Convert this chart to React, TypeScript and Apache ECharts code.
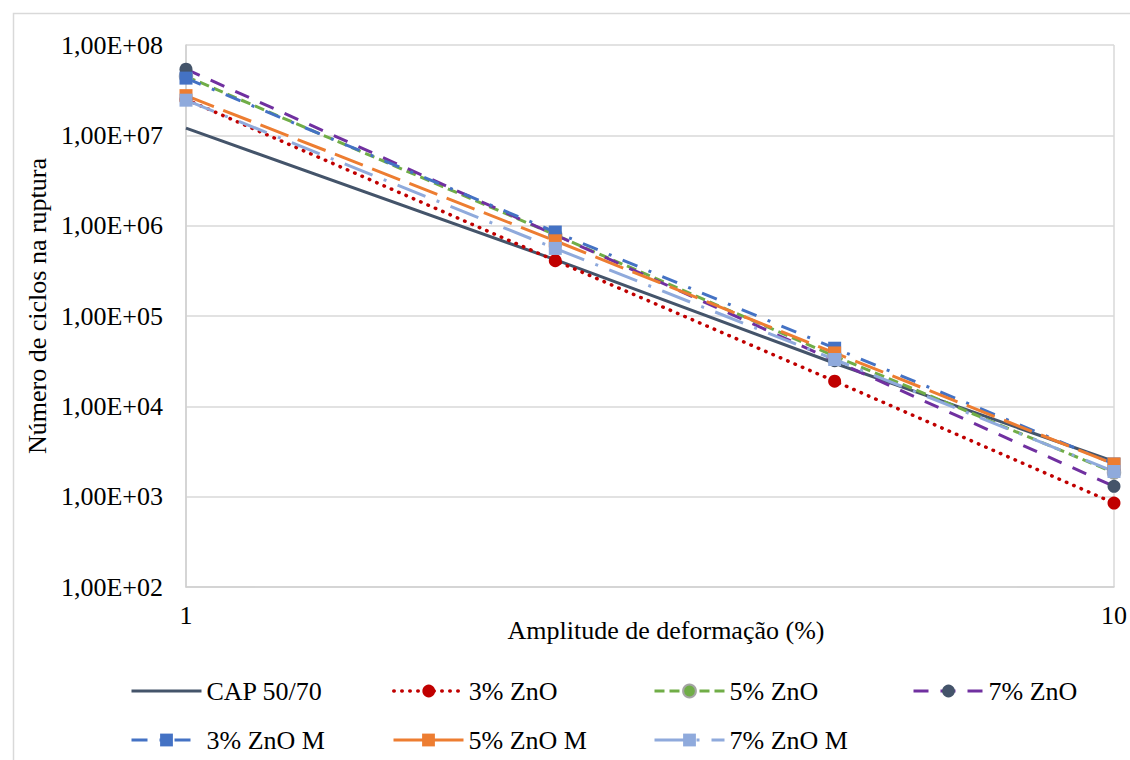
import React, { useEffect, useRef } from "react";
import * as echarts from "echarts";

const xValues = [1, 2.5, 5, 10];
const seriesNames = ["CAP 50/70", "3% ZnO", "5% ZnO", "7% ZnO", "3% ZnO M", "5% ZnO M", "7% ZnO M"];
const cap5070 = [1.2e7, 4.2e5, 3.0e4, 2.45e3];
const zno3 = [2.5e7, 4.1e5, 1.9e4, 850];
const zno5 = [4.5e7, 7.9e5, 3.6e4, 1.85e3];
const zno7 = [5.4e7, 7.9e5, 3.2e4, 1.3e3];
const zno3M = [4.3e7, 8.5e5, 4.4e4, 2.3e3];
const zno5M = [2.75e7, 6.8e5, 3.9e4, 2.3e3];
const zno7M = [2.45e7, 5.6e5, 3.3e4, 1.9e3];
const xTickLabels = ["1", "10"];

const FONT = "Liberation Serif";

function buildOption(): any {
  const pairs = (ys: number[]) => ys.map((y, i) => [xValues[i], y]);
  const styles: any[] = [
    { color: "#44546A", type: "solid", symbol: "none", size: 0 },
    { color: "#C00000", type: [0.5, 7.5], cap: "round", width: 3.5, symbol: "circle", size: 13, fill: "#C00000" },
    { color: "#70AD47", type: [10, 5], symbol: "circle", size: 13, fill: "#70AD47", border: "#A5A5A5" },
    { color: "#7030A0", type: [15, 12], symbol: "circle", size: 13, fill: "#44546A" },
    { color: "#4472C4", type: [16, 12, 3, 12], symbol: "rect", size: 13, fill: "#4472C4" },
    { color: "#ED7D31", type: [30, 10], symbol: "rect", size: 13, fill: "#ED7D31" },
    { color: "#8FAADC", type: [30, 12, 3, 12], symbol: "rect", size: 13, fill: "#8FAADC" },
  ];
  const dataSets = [cap5070, zno3, zno5, zno7, zno3M, zno5M, zno7M];
  const series = seriesNames.map((name, i) => {
    const s = styles[i];
    return {
      name,
      type: "line",
      data: pairs(dataSets[i]),
      symbol: s.symbol,
      symbolSize: s.size,
      showSymbol: s.symbol !== "none",
      lineStyle: { color: s.color, width: s.width || 3, type: s.type, cap: s.cap || "butt" },
      itemStyle: {
        color: s.fill || s.color,
        borderColor: s.border || s.fill || s.color,
        borderWidth: s.border ? 1.5 : 0,
      },
      emphasis: { disabled: true },
    };
  });
  const legendPos = [
    [130, 0], [392, 0], [653, 0], [912, 0],
    [130, 1], [392, 1], [653, 1],
  ];
  const legends = seriesNames.map((name, i) => ({
    show: true,
    left: legendPos[i][0],
    top: legendPos[i][1] === 0 ? 678 : 727,
    padding: 0,
    itemWidth: 70,
    itemHeight: 16,
    selectedMode: false,
    data: [
      {
        name,
        itemStyle: i === 0 ? { opacity: 0 } : undefined,
        lineStyle: { width: styles[i].width || 3 },
      },
    ],
    textStyle: { fontFamily: FONT, fontSize: 26, color: "#000" },
  }));
  return {
    animation: false,
    backgroundColor: "#fff",
    grid: { left: 186, right: 15, top: 45, bottom: 173 },
    legend: legends,
    xAxis: {
      type: "log",
      logBase: 10,
      min: 1,
      max: 10,
      axisLine: { show: true, lineStyle: { color: "#D0D0D0", width: 1.5 } },
      axisTick: { show: false },
      splitLine: { show: true, lineStyle: { color: "#D9D9D9", width: 1.5 } },
      axisLabel: {
        fontFamily: FONT,
        fontSize: 26,
        color: "#000",
        margin: 15,
        formatter: (v: number) => {
          const idx = Math.round(Math.log10(v));
          return xTickLabels[idx] ?? "";
        },
      },
    },
    yAxis: {
      type: "log",
      logBase: 10,
      min: 100,
      max: 1e8,
      axisLine: { show: true, lineStyle: { color: "#D0D0D0", width: 1.5 } },
      axisTick: { show: false },
      splitLine: { show: true, lineStyle: { color: "#D9D9D9", width: 1.5 } },
      axisLabel: {
        fontFamily: FONT,
        fontSize: 26,
        color: "#000",
        margin: 23,
        formatter: (v: number) => {
          const e = Math.round(Math.log10(v));
          return "1,00E+" + String(e).padStart(2, "0");
        },
      },
    },
    graphic: [
      {
        type: "rect",
        left: 11,
        top: 11,
        shape: { x: 0, y: 0, width: 1140, height: 770 },
        style: { fill: "none", stroke: "#D9D9D9", lineWidth: 1.5 },
        silent: true,
        z: -10,
      },
      {
        type: "text",
        x: 666,
        y: 630,
        style: {
          text: "Amplitude de deformação (%)",
          fontFamily: FONT,
          fontSize: 26,
          fill: "#000",
          align: "center",
          verticalAlign: "middle",
        },
      },
      {
        type: "text",
        x: 37,
        y: 306,
        rotation: Math.PI / 2,
        style: {
          text: "Número de ciclos na ruptura",
          fontFamily: FONT,
          fontSize: 26,
          fill: "#000",
          align: "center",
          verticalAlign: "middle",
        },
      },
    ],
    series,
  };
}

export default function App() {
  const ref = useRef<HTMLDivElement>(null);
  useEffect(() => {
    if (!ref.current) return;
    const chart = echarts.init(ref.current, undefined, { renderer: "svg" });
    chart.setOption(buildOption());
    return () => {
      chart.dispose();
    };
  }, []);
  return (
    <div
      ref={ref}
      style={{ position: "absolute", left: 0, top: 0, width: 1130, height: 760 }}
    />
  );
}
